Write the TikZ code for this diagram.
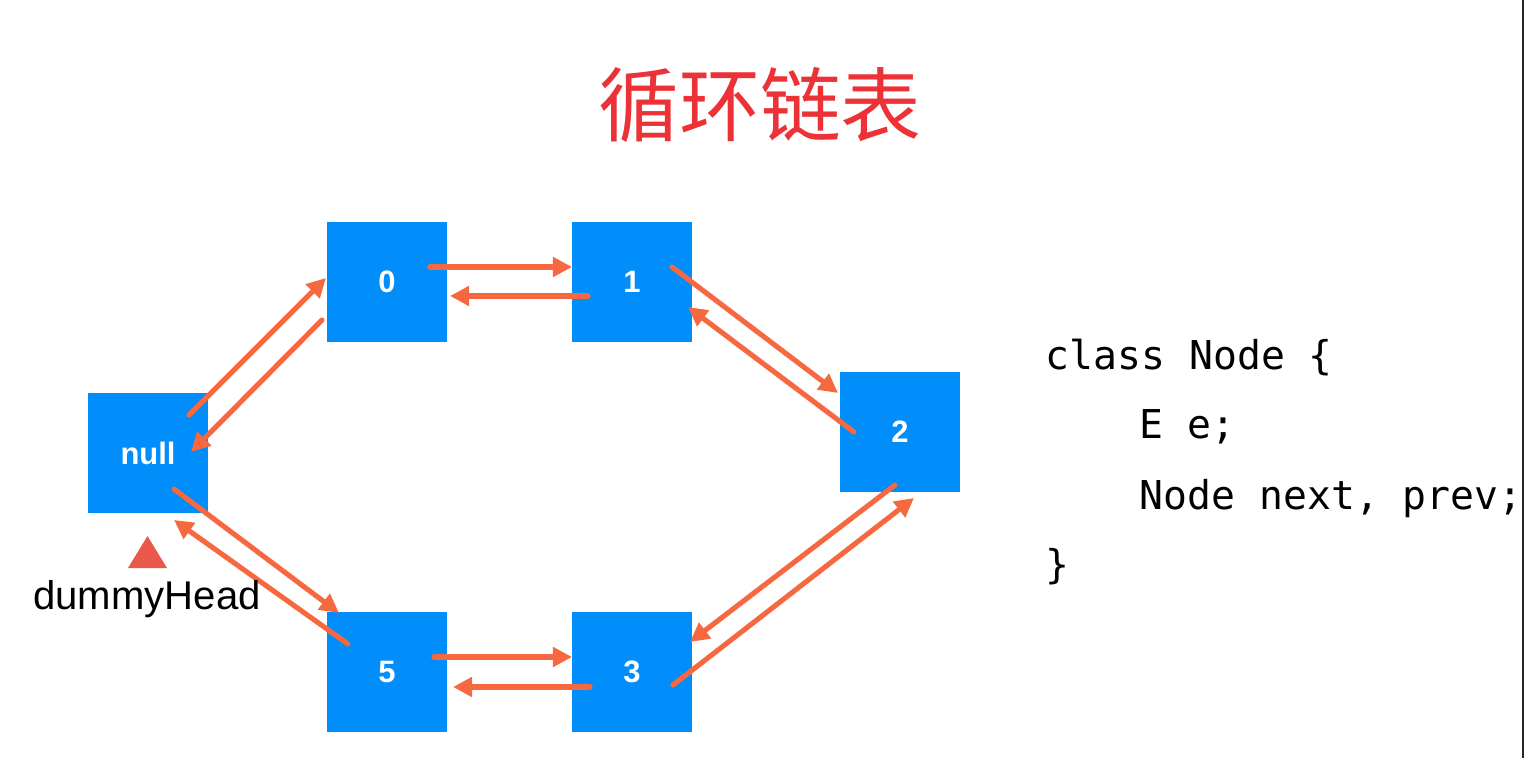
\documentclass[tikz,border=0pt]{standalone}
\usepackage{fontspec}
\setmainfont{Liberation Sans}
\newfontfamily\cjkfont{Noto Sans CJK SC}
\newfontfamily\codefont{DejaVu Sans Mono}
\usetikzlibrary{arrows.meta,calc}
\definecolor{boxblue}{RGB}{2,142,250}
\definecolor{linkred}{RGB}{246,104,64}
\definecolor{titlered}{RGB}{236,50,54}
\definecolor{headred}{RGB}{233,88,75}
\begin{document}
\begin{tikzpicture}[x=0.01cm, y=-0.01cm,
  box/.style = {rectangle, fill=boxblue, minimum size=1.2cm, inner sep=0pt,
    text=white, font=\fontsize{8.8}{10}\selectfont\bfseries},
  link/.style = {draw=linkred, line width=1.45pt, line cap=round,
    -{Triangle[length=0.19cm, width=0.19cm]}},
  code/.style = {anchor=base west, inner sep=0pt,
    font=\codefont\fontsize{11.3}{14}\selectfont}
  ]
  \useasboundingbox (0,0) rectangle (1524,758);
  \fill[black!85] (1522,0) rectangle (1524,758);

  % title
  \node[text=titlered, font=\cjkfont\fontsize{23}{26}\selectfont] (title) at (760,105) {循环链表};

  % list nodes
  \node[box] (nnull) at (148,453) {null};
  \node[box] (n0) at (387,282) {0};
  \node[box] (n1) at (632,282) {1};
  \node[box] (n2) at (900,432) {2};
  \node[box] (n3) at (632,672) {3};
  \node[box] (n5) at (387,672) {5};

  % next / prev links
  \draw[link] ($(nnull)+(41,-38)$) -- ($(n0)+(-61,-4)$);
  \draw[link] ($(n0)+(-65,38)$) -- ($(nnull)+(43,-1)$);
  \draw[link] ($(n0)+(43,-15)$) -- ($(n1)+(-60,-15)$);
  \draw[link] ($(n1)+(-44,14)$) -- ($(n0)+(63,14)$);
  \draw[link] ($(n1)+(40,-15)$) -- ($(n2)+(-62,-39)$);
  \draw[link] ($(n2)+(-46,0)$) -- ($(n1)+(56,25)$);
  \draw[link] ($(n2)+(-5,53)$) -- ($(n3)+(58,-30)$);
  \draw[link] ($(n3)+(41,13)$) -- ($(n2)+(14,66)$);
  \draw[link] ($(n3)+(-42,15)$) -- ($(n5)+(66,15)$);
  \draw[link] ($(n5)+(47,-15)$) -- ($(n3)+(-60,-15)$);
  \draw[link] ($(n5)+(-39,-28)$) -- ($(nnull)+(26,67)$);
  \draw[link] ($(nnull)+(26,36)$) -- ($(n5)+(-48,-59)$);

  % dummy head marker
  \fill[headred] (128,568) -- (167,568) -- (147.5,536) -- cycle;
  \node[anchor=base, inner sep=0pt, font=\fontsize{11.4}{13}\selectfont] (head) at (147,610) {dummyHead};

  % class definition
  \node[code] (code1) at (1045,370) {class Node \{};
  \node[code] (code2) at (1139,439) {E e;};
  \node[code] (code3) at (1139,509) {Node next, prev;};
  \node[code] (code4) at (1045,579) {\}};
\end{tikzpicture}
\end{document}
